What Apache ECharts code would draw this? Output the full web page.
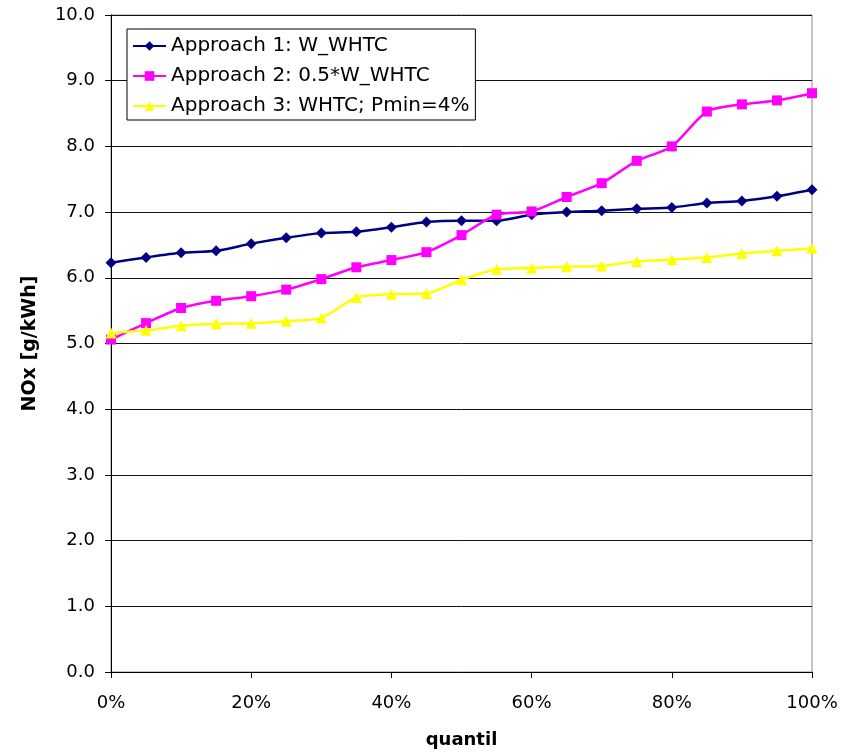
<!DOCTYPE html>
<html>
<head>
<meta charset="utf-8">
<script src="https://cdn.jsdelivr.net/npm/echarts@6/dist/echarts.min.js"></script>
<style>
  html, body { margin: 0; padding: 0; background: #fff; }
  #chart { width: 853px; height: 756px; }
</style>
</head>
<body>
<div id="chart"></div>
<script>
// Quantile positions (%) and NOx emissions per approach [g/kWh]
const quantil = [0, 5, 10, 15, 20, 25, 30, 35, 40, 45, 50, 55, 60, 65, 70, 75, 80, 85, 90, 95, 100];
const approach1 = [6.23, 6.31, 6.38, 6.41, 6.52, 6.61, 6.68, 6.70, 6.77, 6.85, 6.87, 6.87, 6.96, 7.00, 7.02, 7.05, 7.07, 7.14, 7.17, 7.24, 7.34];
const approach2 = [5.06, 5.31, 5.54, 5.65, 5.72, 5.82, 5.98, 6.16, 6.27, 6.39, 6.65, 6.96, 7.01, 7.23, 7.44, 7.78, 8.00, 8.53, 8.64, 8.70, 8.81];
const approach3 = [5.16, 5.20, 5.27, 5.30, 5.31, 5.34, 5.39, 5.70, 5.75, 5.76, 5.97, 6.13, 6.15, 6.17, 6.18, 6.25, 6.28, 6.31, 6.37, 6.41, 6.45];
const seriesNames = ['Approach 1: W_WHTC', 'Approach 2: 0.5*W_WHTC', 'Approach 3: WHTC; Pmin=4%'];

const pairs = vals => quantil.map((q, i) => [q, vals[i]]);
const font = '"DejaVu Sans", Verdana, sans-serif';

const chart = echarts.init(document.getElementById('chart'), null, { renderer: 'canvas' });

function lineSeries(name, vals, color, symbol, size) {
  return {
    name: name,
    type: 'line',
    data: pairs(vals),
    smooth: 0.25,
    symbol: symbol,
    symbolSize: size,
    showAllSymbol: true,
    lineStyle: { color: color, width: 2.5 },
    itemStyle: { color: color, borderWidth: 0 },
    emphasis: { disabled: true },
    animation: false
  };
}

chart.setOption({
  animation: false,
  backgroundColor: '#fff',
  grid: {
    left: 111, right: 41, top: 15, bottom: 84,
    show: true, borderColor: '#888', borderWidth: 1
  },
  legend: {
    orient: 'vertical',
    left: 127, top: 29,
    padding: [7, 6, 4, 5],
    itemGap: 10,
    itemWidth: 33, itemHeight: 12,
    backgroundColor: '#fff',
    borderColor: '#000', borderWidth: 1,
    textStyle: { fontFamily: font, fontSize: 20, color: '#000' },
    data: seriesNames
  },
  xAxis: {
    type: 'value',
    min: 0, max: 100, interval: 20,
    name: 'quantil',
    nameLocation: 'middle',
    nameGap: 59,
    nameTextStyle: { fontFamily: font, fontSize: 18, fontWeight: 'bold', color: '#000' },
    axisLine: { show: true, onZero: false, lineStyle: { color: '#000', width: 1 } },
    axisTick: { show: true, length: 6, inside: false, lineStyle: { color: '#000' } },
    axisLabel: { fontFamily: font, fontSize: 18, color: '#000', margin: 22, formatter: '{value}%' },
    splitLine: { show: false }
  },
  yAxis: {
    type: 'value',
    min: 0, max: 10, interval: 1,
    name: 'NOx [g/kWh]',
    nameLocation: 'middle',
    nameGap: 71,
    nameRotate: 90,
    nameTextStyle: { fontFamily: font, fontSize: 19, fontWeight: 'bold', color: '#000' },
    axisLine: { show: true, lineStyle: { color: '#000', width: 1 } },
    axisTick: { show: true, length: 6, inside: false, lineStyle: { color: '#000' } },
    axisLabel: { fontFamily: font, fontSize: 18, color: '#000', margin: 16, formatter: v => v.toFixed(1) },
    splitLine: { show: true, lineStyle: { color: '#111', width: 1 } }
  },
  series: [
    lineSeries(seriesNames[0], approach1, '#000080', 'diamond', 11),
    lineSeries(seriesNames[1], approach2, '#ff00ff', 'rect', 10),
    lineSeries(seriesNames[2], approach3, '#ffff00', 'triangle', 11)
  ]
});
</script>
</body>
</html>
